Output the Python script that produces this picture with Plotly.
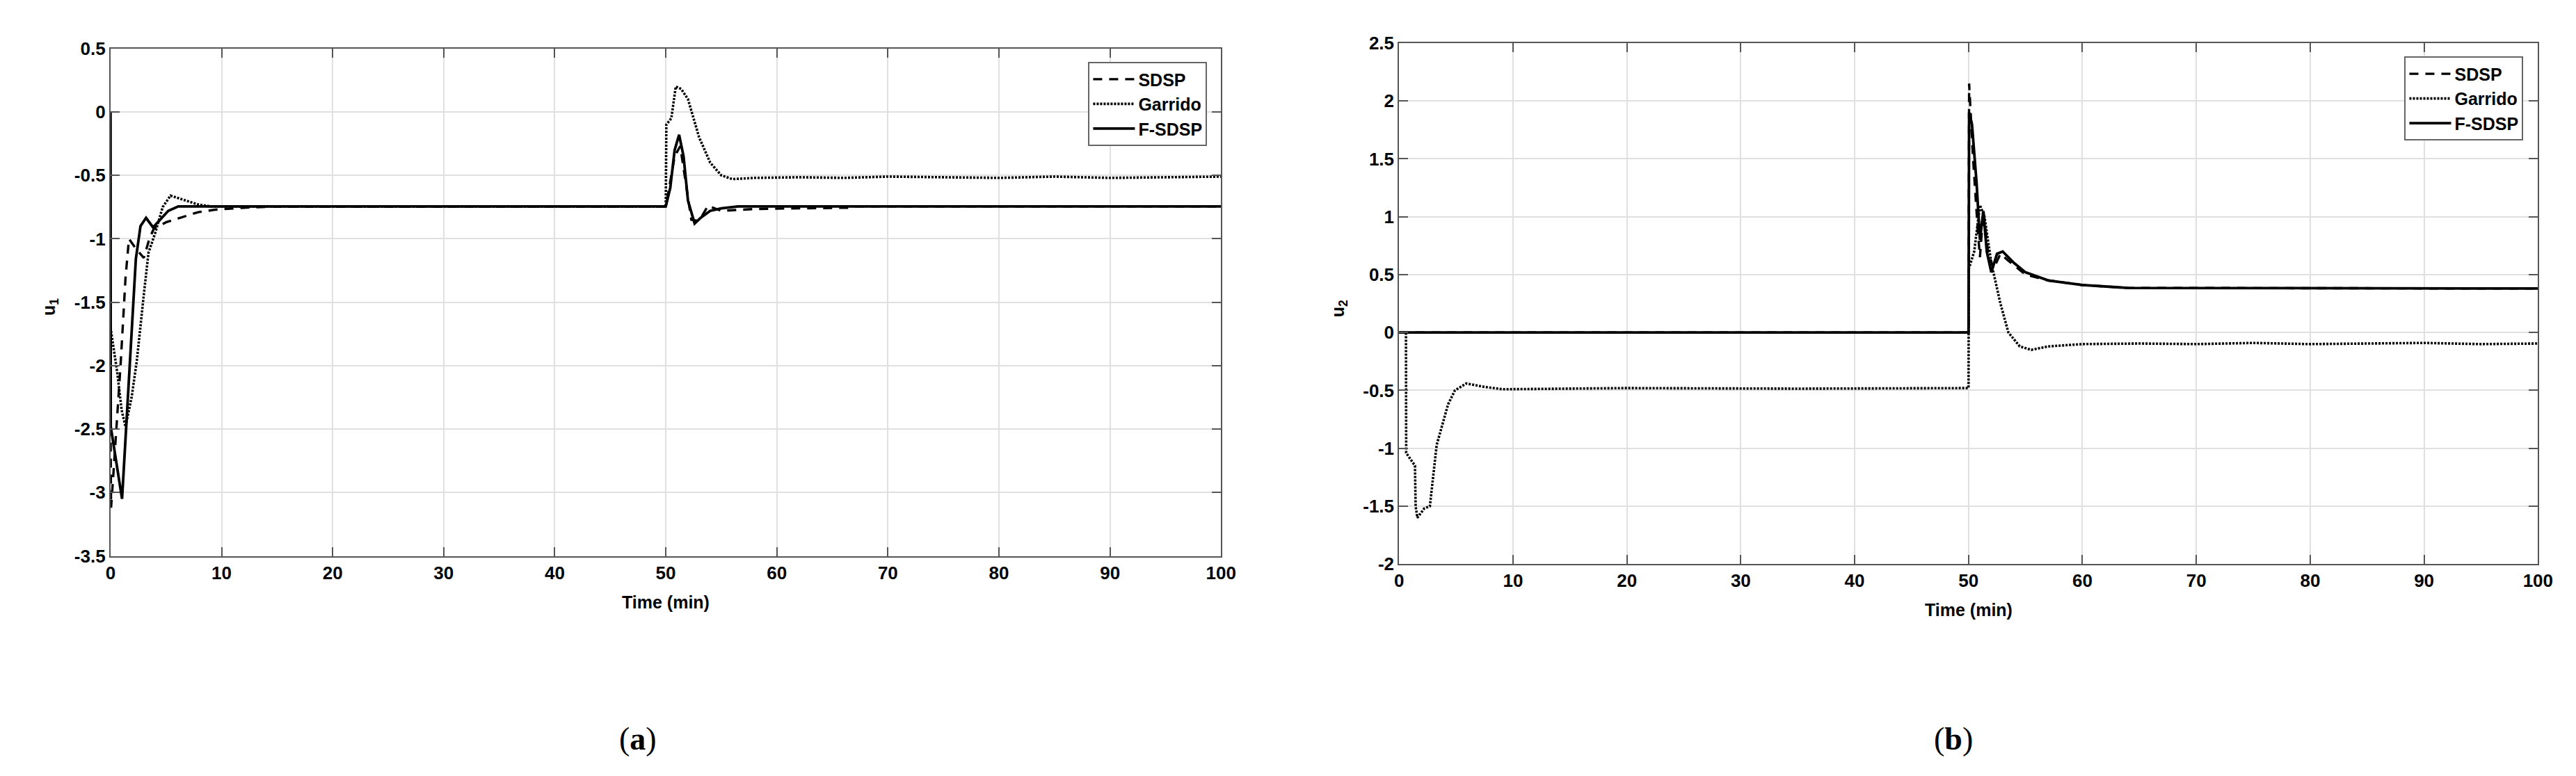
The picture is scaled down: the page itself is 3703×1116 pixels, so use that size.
import plotly.graph_objects as go

W, H = 3703, 1116

# ---------------- data: panel (a) u1 ----------------
t_a_sdsp = [0, 0.05, 0.3, 0.6, 0.93, 1.35, 1.66, 2.3, 3.0, 3.5, 3.9, 5.0, 6.5, 7.9, 9.5, 12, 14, 50,
            50.3, 50.8, 51.3, 51.8, 52.3, 53.0, 53.8, 55, 58, 62, 66.6, 67, 100]
u1_sdsp = [-2.48, -3.12, -2.8, -2.4, -1.96, -1.31, -1.0, -1.08, -1.15, -1.0, -0.92, -0.87, -0.83, -0.79,
           -0.77, -0.755, -0.748, -0.745, -0.6, -0.35, -0.27, -0.55, -0.85, -0.86, -0.74, -0.78, -0.765,
           -0.76, -0.755, -0.745, -0.745]

t_a_garrido = [0, 0.6, 1.0, 1.35, 1.9, 2.37, 3.0, 3.42, 4.04, 4.7, 5.4, 6.5, 7.9, 9, 50, 50.05, 50.5, 50.9,
               51.4, 52.0, 53.0, 54.0, 55.0, 56, 58, 62, 66, 70, 75, 80, 85, 90, 95, 100]
u1_garrido = [-1.7, -2.05, -2.35, -2.48, -2.25, -1.96, -1.44, -1.11, -0.95, -0.75, -0.66, -0.69, -0.73,
              -0.745, -0.745, -0.1, -0.05, 0.2, 0.18, 0.1, -0.2, -0.4, -0.5, -0.53, -0.52, -0.515, -0.52,
              -0.51, -0.515, -0.52, -0.51, -0.52, -0.515, -0.51]

t_a_fsdsp = [0, 0.02, 1.04, 2.28, 2.7, 3.2, 3.83, 4.5, 5.2, 6.1, 50, 50.4, 50.8, 51.2, 51.6, 52.0, 52.6,
             53.2, 54, 55, 56.5, 100]
u1_fsdsp = [0, -2.48, -3.05, -1.16, -0.9, -0.835, -0.91, -0.85, -0.78, -0.745, -0.745, -0.6, -0.3, -0.18,
            -0.35, -0.7, -0.88, -0.83, -0.78, -0.76, -0.745, -0.745]

# ---------------- data: panel (b) u2 ----------------
t_b_sdsp = [0, 50, 50.05, 50.4, 50.8, 51.0, 51.3, 51.7, 52.2, 52.8, 53.5, 55, 57, 60, 64, 100]
u2_sdsp = [0, 0, 2.15, 1.5, 0.9, 0.65, 1.05, 0.7, 0.55, 0.68, 0.62, 0.5, 0.45, 0.41, 0.385, 0.38]

t_b_garrido = [0, 0.6, 0.62, 1.39, 1.45, 1.6, 2.2, 2.7, 3.3, 4.3, 4.9, 5.9, 7.5, 9.1, 20, 35, 50, 50.02,
               50.5, 51.0, 51.4, 52.0, 52.8, 53.5, 54.5, 55.5, 57, 60, 65, 70, 75, 80, 85, 90, 95, 100]
u2_garrido = [0, 0, -1.04, -1.15, -1.5, -1.6, -1.52, -1.5, -0.97, -0.62, -0.5, -0.44, -0.47, -0.49, -0.48,
              -0.485, -0.48, 0.55, 0.7, 1.1, 1.0, 0.6, 0.25, 0.0, -0.12, -0.15, -0.12, -0.1, -0.095, -0.1,
              -0.09, -0.1, -0.095, -0.09, -0.1, -0.095]

t_b_fsdsp = [0, 50, 50.05, 50.3, 50.7, 51.0, 51.3, 51.6, 52.0, 52.5, 53.0, 54, 55, 57, 60, 64, 100]
u2_fsdsp = [0, 0, 1.9, 1.8, 1.3, 0.8, 1.05, 0.7, 0.52, 0.68, 0.7, 0.6, 0.52, 0.45, 0.41, 0.385, 0.38]

series_names = ["SDSP", "Garrido", "F-SDSP"]
x_ticks = [0, 10, 20, 30, 40, 50, 60, 70, 80, 90, 100]
y_ticks_a = [-3.5, -3, -2.5, -2, -1.5, -1, -0.5, 0, 0.5]
y_ticks_b = [-2, -1.5, -1, -0.5, 0, 0.5, 1, 1.5, 2, 2.5]


def lab(v):
    return "%g" % v


FONT = "Liberation Sans, Arial, Helvetica, sans-serif"
styles = {
    "SDSP": dict(color="black", width=3.4, dash="13px,10px"),
    "Garrido": dict(color="black", width=3.6, dash="3px,2px"),
    "F-SDSP": dict(color="black", width=3.8, dash="solid"),
}

fig = go.Figure()
panel_a = [(t_a_sdsp, u1_sdsp), (t_a_garrido, u1_garrido), (t_a_fsdsp, u1_fsdsp)]
panel_b = [(t_b_sdsp, u2_sdsp), (t_b_garrido, u2_garrido), (t_b_fsdsp, u2_fsdsp)]
for name, (tx, ty) in zip(series_names, panel_a):
    fig.add_trace(go.Scatter(x=tx, y=ty, mode="lines", name=name, line=styles[name],
                             xaxis="x", yaxis="y", legend="legend"))
for name, (tx, ty) in zip(series_names, panel_b):
    fig.add_trace(go.Scatter(x=tx, y=ty, mode="lines", name=name, line=styles[name],
                             xaxis="x2", yaxis="y2", legend="legend2"))

# pixel geometry -> paper fractions
ax_a = dict(l=145, r=1754, t=48, b=798)
ax_b = dict(l=2012, r=3662, t=40, b=810)


def xd(p):
    return p / W


def yd(p):
    return 1 - p / H


tickfont = dict(family=FONT, size=26, color="black", weight="bold")
common_x = dict(range=[0, 100], tickvals=x_ticks, ticktext=[lab(v) for v in x_ticks],
                showgrid=True, gridcolor="#e0e0e0", gridwidth=1.5, zeroline=False,
                showline=True, linecolor="#555555", linewidth=2, mirror="ticks",
                ticks="inside", ticklen=13, tickwidth=2, tickcolor="#555555",
                tickfont=tickfont, fixedrange=True)
common_y = dict(showgrid=True, gridcolor="#e0e0e0", gridwidth=1.5, zeroline=False,
                showline=True, linecolor="#555555", linewidth=2, mirror="ticks",
                ticks="inside", ticklen=13, tickwidth=2, tickcolor="#555555",
                tickfont=tickfont, fixedrange=True)

legend_common = dict(bgcolor="white", bordercolor="#666666", borderwidth=2,
                     font=dict(family=FONT, size=25, color="black", weight="bold"),
                     xanchor="right", yanchor="top", itemwidth=60, tracegroupgap=0)

fig.update_layout(
    width=W, height=H,
    margin=dict(l=0, r=0, t=0, b=0),
    paper_bgcolor="white", plot_bgcolor="white",
    showlegend=True,
    xaxis=dict(domain=[xd(ax_a["l"]), xd(ax_a["r"])], anchor="y", **common_x),
    yaxis=dict(domain=[yd(ax_a["b"]), yd(ax_a["t"])], anchor="x", range=[-3.5, 0.5],
               tickvals=y_ticks_a, ticktext=[lab(v) for v in y_ticks_a], **common_y),
    xaxis2=dict(domain=[xd(ax_b["l"]), xd(ax_b["r"])], anchor="y2", **common_x),
    yaxis2=dict(domain=[yd(ax_b["b"]), yd(ax_b["t"])], anchor="x2", range=[-2, 2.5],
                tickvals=y_ticks_b, ticktext=[lab(v) for v in y_ticks_b], **common_y),
    legend=dict(x=xd(1734), y=yd(68), **legend_common),
    legend2=dict(x=xd(3641), y=yd(60), **legend_common),
)

title_font = dict(family=FONT, size=25, color="black", weight="bold")
annotations = [
    dict(text="Time (min)", x=xd((ax_a["l"] + ax_a["r"]) / 2), y=yd(866), xref="paper", yref="paper",
         showarrow=False, font=title_font, xanchor="center", yanchor="middle"),
    dict(text="Time (min)", x=xd((ax_b["l"] + ax_b["r"]) / 2), y=yd(878), xref="paper", yref="paper",
         showarrow=False, font=title_font, xanchor="center", yanchor="middle"),
    dict(text="u<sub>1</sub>", x=xd(58), y=yd(430), xref="paper", yref="paper",
         showarrow=False, font=title_font, textangle=-90, xanchor="center", yanchor="middle"),
    dict(text="u<sub>2</sub>", x=xd(1925), y=yd(432), xref="paper", yref="paper",
         showarrow=False, font=title_font, textangle=-90, xanchor="center", yanchor="middle"),
    dict(text="(<b>a</b>)", x=xd(909), y=yd(1068), xref="paper", yref="paper", showarrow=False,
         font=dict(family="Liberation Serif, Times New Roman, serif", size=46, color="black"),
         xanchor="center", yanchor="middle"),
    dict(text="(<b>b</b>)", x=xd(2815), y=yd(1068), xref="paper", yref="paper", showarrow=False,
         font=dict(family="Liberation Serif, Times New Roman, serif", size=46, color="black"),
         xanchor="center", yanchor="middle"),
]
fig.update_layout(annotations=annotations)

fig.write_html("out.html")
